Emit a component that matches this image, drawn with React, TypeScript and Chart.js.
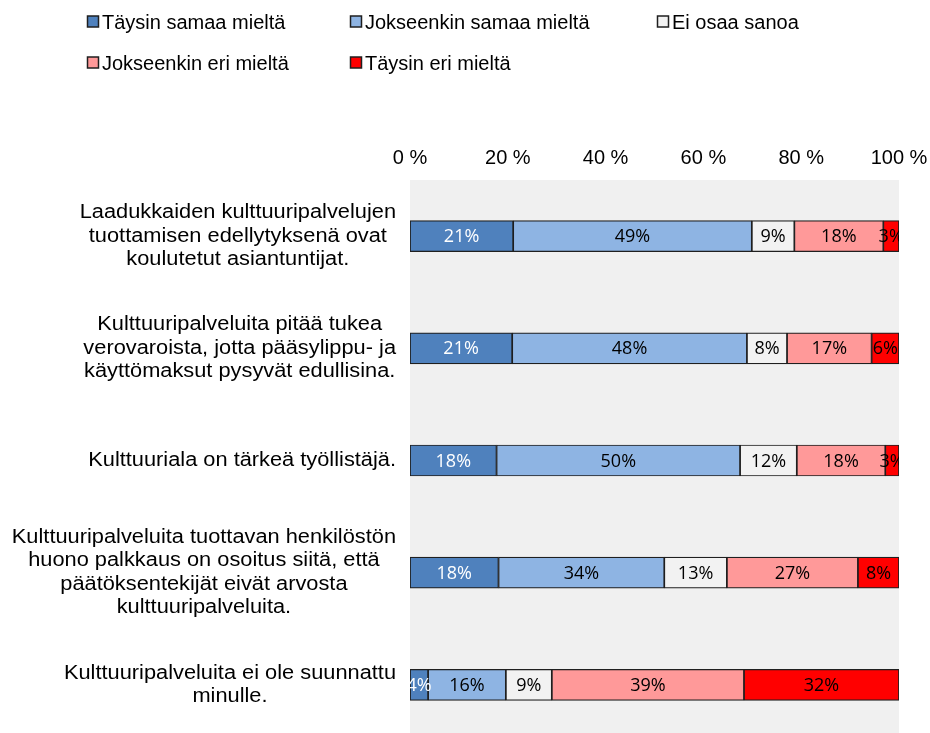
import React, { useEffect, useRef } from "react";
import { Chart, registerables } from "chart.js";

Chart.register(...registerables);

const categories: string[][] = [
  ["Laadukkaiden kulttuuripalvelujen", "tuottamisen edellytyksenä ovat", "koulutetut asiantuntijat."],
  ["Kulttuuripalveluita pitää tukea", "verovaroista, jotta pääsylippu- ja", "käyttömaksut pysyvät edullisina."],
  ["Kulttuuriala on tärkeä työllistäjä."],
  ["Kulttuuripalveluita tuottavan henkilöstön", "huono palkkaus on osoitus siitä, että", "päätöksentekijät eivät arvosta", "kulttuuripalveluita."],
  ["Kulttuuripalveluita ei ole suunnattu", "minulle."],
];

const seriesNames = [
  "Täysin samaa mieltä",
  "Jokseenkin samaa mieltä",
  "Ei osaa sanoa",
  "Jokseenkin eri mieltä",
  "Täysin eri mieltä",
];

const taysinSamaa = [21.1, 20.9, 17.7, 18.1, 3.7];
const jokseenkinSamaa = [48.8, 48.0, 49.8, 33.9, 15.9];
const eiOsaa = [8.7, 8.2, 11.6, 12.8, 9.4];
const jokseenkinEri = [18.2, 17.3, 18.1, 26.8, 39.3];
const taysinEri = [3.2, 5.6, 2.8, 8.4, 31.7];

const xTicks = [0, 20, 40, 60, 80, 100];

const seriesColors = ["#4F81BD", "#8EB4E3", "#F2F2F2", "#FF9999", "#FF0000"];
const labelColors = ["#FFFFFF", "#000000", "#000000", "#000000", "#000000"];

const ARIAL = "'Liberation Sans', Arial, sans-serif";
const CALIBRI = "'Open Sans', sans-serif";

const bgPlugin = {
  id: "plotBg",
  beforeDraw(chart: any) {
    const { ctx, chartArea } = chart;
    ctx.save();
    ctx.fillStyle = "#F0F0F0";
    ctx.fillRect(chartArea.left, chartArea.top, chartArea.right - chartArea.left, chartArea.bottom - chartArea.top);
    ctx.restore();
  },
};

const yLabelPlugin = {
  id: "yLabels",
  afterDraw(chart: any) {
    const { ctx, chartArea } = chart;
    const yScale = chart.scales.y;
    const lh = 23.5;
    const sx = 1.09;
    ctx.save();
    ctx.font = `20px ${ARIAL}`;
    ctx.fillStyle = "#000";
    ctx.textBaseline = "middle";
    ctx.textAlign = "center";
    categories.forEach((lines, i) => {
      const yc = yScale.getPixelForValue(i);
      const maxW = Math.max(...lines.map((l) => ctx.measureText(l).width)) * sx;
      const right = chartArea.left - 14;
      const cx = right - maxW / 2;
      const y0 = yc - ((lines.length - 1) * lh) / 2;
      lines.forEach((l, j) => {
        ctx.save();
        ctx.translate(cx, y0 + j * lh);
        ctx.scale(sx, 1);
        ctx.fillText(l, 0, 0);
        ctx.restore();
      });
    });
    ctx.restore();
  },
};

const dataLabelPlugin = {
  id: "dataLabels",
  afterDatasetsDraw(chart: any) {
    const { ctx, chartArea } = chart;
    ctx.save();
    ctx.beginPath();
    ctx.rect(chartArea.left, chartArea.top, chartArea.right - chartArea.left, chartArea.bottom - chartArea.top);
    ctx.clip();
    ctx.font = `18px ${CALIBRI}`;
    ctx.textAlign = "center";
    ctx.textBaseline = "middle";
    chart.data.datasets.forEach((ds: any, di: number) => {
      const meta = chart.getDatasetMeta(di);
      meta.data.forEach((bar: any, i: number) => {
        const v = ds.data[i];
        const cx = (bar.x + bar.base) / 2;
        ctx.fillStyle = labelColors[di];
        ctx.fillText(Math.round(v) + "%", cx, bar.y + 1);
      });
    });
    ctx.restore();
  },
};

const legendPlugin = {
  id: "customLegend",
  afterDraw(chart: any) {
    const { ctx } = chart;
    const slots = [
      [87, 22],
      [350, 22],
      [657, 22],
      [87, 63],
      [350, 63],
    ];
    ctx.save();
    ctx.font = `20px ${ARIAL}`;
    ctx.textBaseline = "middle";
    ctx.textAlign = "left";
    chart.data.datasets.forEach((ds: any, i: number) => {
      const [x, y] = slots[i];
      ctx.fillStyle = ds.backgroundColor;
      ctx.fillRect(x + 0.5, y - 6, 11, 11);
      ctx.strokeStyle = "#1F1F1F";
      ctx.lineWidth = 1.5;
      ctx.strokeRect(x + 0.5, y - 6, 11, 11);
      ctx.fillStyle = "#000";
      ctx.fillText(ds.label, x + 15, y + 1);
    });
    ctx.restore();
  },
};

export default function App() {
  const ref = useRef<HTMLCanvasElement>(null);

  useEffect(() => {
    document.body.style.margin = "0";
    document.body.style.overflow = "hidden";
    const values = [taysinSamaa, jokseenkinSamaa, eiOsaa, jokseenkinEri, taysinEri];
    const chart = new Chart(ref.current!, {
      type: "bar",
      data: {
        labels: categories.map((c) => c.join(" ")),
        datasets: values.map((d, i) => ({
          label: seriesNames[i],
          data: d,
          backgroundColor: seriesColors[i],
          borderColor: "#1F1F1F",
          borderWidth: 1.2,
          borderSkipped: false,
          barThickness: 31,
        })),
      },
      options: {
        indexAxis: "y",
        responsive: false,
        animation: false,
        layout: { padding: { top: 150, right: 31, left: 0, bottom: 0 } },
        plugins: {
          legend: { display: false },
          tooltip: { enabled: false },
          title: { display: false },
        },
        scales: {
          x: {
            position: "top",
            stacked: true,
            min: 0,
            max: 100,
            afterBuildTicks: (scale: any) => {
              scale.ticks = xTicks.map((v) => ({ value: v }));
            },
            afterFit: (scale: any) => {
              scale.height = 30;
              scale.paddingLeft = 0;
              scale.paddingRight = 0;
            },
            grid: { display: false, drawTicks: false },
            border: { display: false },
            ticks: {
              padding: 10,
              color: "#000",
              font: { family: ARIAL, size: 20 },
              callback: (v: any) => `${v} %`,
            },
          },
          y: {
            stacked: true,
            afterFit: (scale: any) => {
              scale.width = 410;
              scale.paddingTop = 0;
              scale.paddingBottom = 0;
            },
            grid: { display: false },
            border: { display: false },
            ticks: { display: false },
          },
        },
      },
      plugins: [bgPlugin, dataLabelPlugin, yLabelPlugin, legendPlugin],
    });
    return () => chart.destroy();
  }, []);

  return (
    <div style={{ width: 930, height: 733, overflow: "hidden" }}>
      <canvas ref={ref} width={930} height={741} style={{ display: "block", width: 930, height: 741 }} />
    </div>
  );
}
